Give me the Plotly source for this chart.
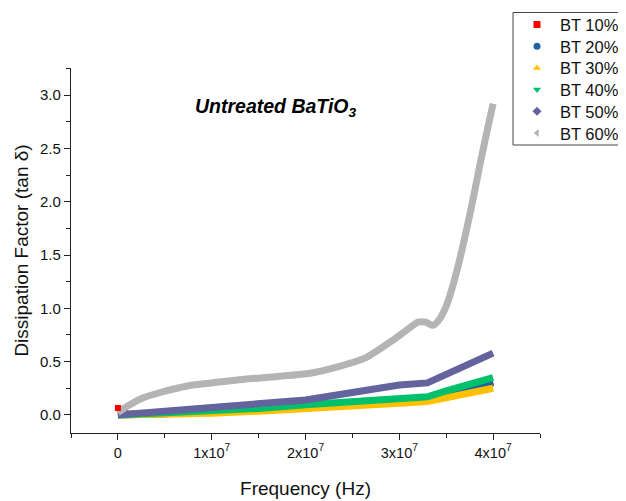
import plotly.graph_objects as go

# ---- data ----
freq_low = [0, 0.1e7, 0.5e7, 1.0e7, 1.5e7, 2.0e7, 2.5e7, 3.0e7, 3.3e7, 3.5e7, 3.75e7, 4.0e7]
bt10 = [0.065, 0.005, 0.01, 0.025, 0.045, 0.07, 0.10, 0.13, 0.145, 0.20, 0.26, 0.31]
bt20 = [0.0, 0.0, 0.01, 0.025, 0.045, 0.07, 0.095, 0.125, 0.14, 0.19, 0.25, 0.30]
bt30 = [0.0, 0.0, 0.005, 0.015, 0.035, 0.055, 0.08, 0.11, 0.125, 0.165, 0.21, 0.25]
bt40 = [0.0, 0.003, 0.015, 0.035, 0.06, 0.095, 0.12, 0.15, 0.17, 0.225, 0.295, 0.35]
bt50 = [0.0, 0.01, 0.035, 0.07, 0.10, 0.14, 0.21, 0.28, 0.30, 0.38, 0.48, 0.58]

freq_60 = [0, 0.1e7, 0.27e7, 0.45e7, 0.63e7, 0.8e7, 1.0e7, 1.35e7, 1.7e7, 2.05e7, 2.3e7,
           2.65e7, 2.93e7, 3.1e7, 3.2e7, 3.28e7, 3.36e7, 3.43e7, 3.5e7, 3.57e7, 3.65e7,
           3.72e7, 3.79e7, 3.86e7, 3.93e7, 4.0e7]
bt60 = [0.02, 0.08, 0.16, 0.21, 0.25, 0.28, 0.30, 0.335, 0.36, 0.39, 0.44,
        0.54, 0.70, 0.81, 0.87, 0.87, 0.84, 0.90, 1.02, 1.21, 1.48,
        1.75, 2.04, 2.35, 2.64, 2.92]

names = ["BT 10%", "BT 20%", "BT 30%", "BT 40%", "BT 50%", "BT 60%"]
colors = ["#FF0000", "#1E64A0", "#FFC000", "#00C06B", "#63639E", "#B4B4B4"]
symbols = ["square", "circle", "triangle-up", "triangle-down", "diamond", "triangle-left"]
series_x = [freq_low, freq_low, freq_low, freq_low, freq_low, freq_60]
series_y = [bt10, bt20, bt30, bt40, bt50, bt60]

x_tickvals = [0, 1e7, 2e7, 3e7, 4e7]
x_ticktext = ["0", "1x10<sup>7</sup>", "2x10<sup>7</sup>", "3x10<sup>7</sup>", "4x10<sup>7</sup>"]
y_tickvals = [0, 0.5, 1.0, 1.5, 2.0, 2.5, 3.0]

FONT = "Liberation Sans, Arial, sans-serif"
W, H = 626, 501
OFF = 8  # page body margin offset
# plot area in window pixels
PX0, PX1, PY0, PY1 = 71, 540, 68, 433

fig = go.Figure()
for i in range(6):
    fig.add_trace(go.Scatter(
        x=series_x[i], y=series_y[i], mode="lines", xaxis="x", yaxis="y",
        line=dict(color=colors[i], width=7, shape="spline" if i == 5 else "linear", smoothing=0.6),
        showlegend=False, hoverinfo="skip"))
fig.add_trace(go.Scatter(x=freq_low[:1], y=bt10[:1], mode="markers", xaxis="x", yaxis="y",
                         marker=dict(symbol="square", color=colors[0], size=6),
                         showlegend=False, hoverinfo="skip"))

# manual legend on a full-figure pixel overlay
leg_y = [24.5 + 21.7 * k - OFF for k in range(6)]
leg_mx = [537 - OFF] * 6
fig.add_trace(go.Scatter(x=leg_mx, y=leg_y, mode="markers", xaxis="x2", yaxis="y2",
                         marker=dict(symbol=symbols, color=colors, size=7),
                         showlegend=False, hoverinfo="skip", cliponaxis=False))
fig.add_shape(type="rect", xref="x2", yref="y2", x0=513 - OFF, x1=650, y0=12.5 - OFF, y1=145 - OFF,
              line=dict(color="#444", width=1), fillcolor="rgba(255,255,255,0)", layer="below")
for k, nm in enumerate(names):
    fig.add_annotation(x=559 - OFF, y=leg_y[k] + 0.5, xref="x2", yref="y2", text=nm, showarrow=False,
                       xanchor="left", yanchor="middle", borderpad=0,
                       font=dict(family=FONT, size=16.5, color="#111"))

fig.add_annotation(x=0.8e7, y=2.88, xref="x", yref="y", xanchor="left", yanchor="middle",
                   text="<b><i>Untreated BaTiO<sub>3</sub></i></b>", showarrow=False,
                   font=dict(family=FONT, size=19.5, color="black"))

axis_common = dict(showline=True, linecolor="#222", linewidth=1.3, ticks="outside",
                   ticklen=6, tickwidth=1.3, tickcolor="#222", showgrid=False, zeroline=False,
                   mirror=False, automargin=False)

fig.update_layout(
    template="none",
    width=W, height=H,
    margin=dict(l=0, r=0, t=0, b=0, pad=0, autoexpand=False),
    plot_bgcolor="rgba(0,0,0,0)", paper_bgcolor="white",
    font=dict(family=FONT, color="#111"),
    showlegend=False,
    xaxis=dict(domain=[(PX0 - OFF) / W, (PX1 - OFF) / W], anchor="y",
               range=[-5e6, 4.5e7], tickmode="array", tickvals=x_tickvals, ticktext=x_ticktext,
               tickfont=dict(family=FONT, size=14.5, color="#111"),
               title=dict(text="Frequency (Hz)", font=dict(family=FONT, size=19, color="#111"), standoff=22),
               minor=dict(ticks="outside", ticklen=4, tickcolor="#222", tickwidth=1.3,
                          tickvals=[-5e6, 5e6, 1.5e7, 2.5e7, 3.5e7, 4.5e7]),
               **axis_common),
    yaxis=dict(domain=[1 - (PY1 - OFF) / H, 1 - (PY0 - OFF) / H], anchor="x",
               range=[-0.17, 3.255], tickmode="array", tickvals=y_tickvals,
               ticktext=[f"{v:.1f}" for v in y_tickvals],
               tickfont=dict(family=FONT, size=15, color="#111"),
               title=dict(text="Dissipation Factor (tan δ)", font=dict(family=FONT, size=19, color="#111"), standoff=6),
               minor=dict(ticks="outside", ticklen=4, tickcolor="#222", tickwidth=1.3,
                          tickvals=[0.25, 0.75, 1.25, 1.75, 2.25, 2.75, 3.25]),
               **axis_common),
    xaxis2=dict(domain=[0, 1], anchor="y2", range=[0, W], visible=False, fixedrange=True),
    yaxis2=dict(domain=[0, 1], anchor="x2", range=[H, 0], visible=False, fixedrange=True),
)

fig.write_html("out.html")
